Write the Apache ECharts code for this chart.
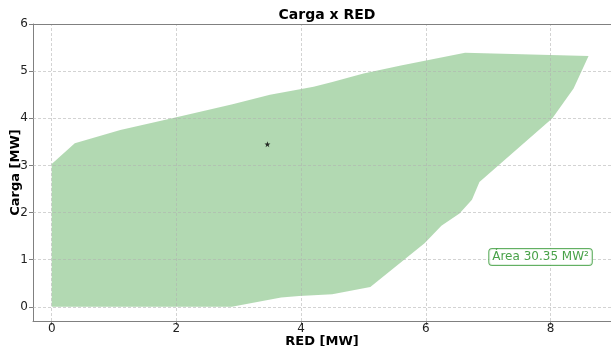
<!DOCTYPE html>
<html>
<head>
<meta charset="utf-8">
<script src="https://cdn.jsdelivr.net/npm/echarts@6/dist/echarts.min.js"></script>
<style>
  html, body { margin: 0; padding: 0; background: #fff; }
  #chart { width: 611px; height: 346px; }
</style>
</head>
<body>
<div id="chart"></div>
<script>
// Operating region boundary (RED vs Carga), traced clockwise
const boundaryRed   = [0.00, 0.00, 0.37, 1.10, 2.00, 2.90, 3.50, 4.20, 4.50, 5.00, 5.60, 6.63, 8.61, 8.37, 8.03, 6.86, 6.74, 6.54, 6.25, 5.98, 5.11, 4.50, 3.97, 3.68, 2.89];
const boundaryCarga = [0.00, 3.03, 3.47, 3.75, 4.02, 4.30, 4.50, 4.67, 4.77, 4.95, 5.12, 5.39, 5.32, 4.63, 4.00, 2.65, 2.27, 1.98, 1.72, 1.35, 0.42, 0.27, 0.23, 0.20, 0.00];

// Current operating point
const pointRed = [3.46];
const pointCarga = [3.45];

// Area annotation
const areaLabel = 'Área 30.35 MW²';
const areaLabelPos = [7.84, 1.06];

// Axis ticks
const xTicks = [0, 2, 4, 6, 8];
const yTicks = [0, 1, 2, 3, 4, 5, 6];

const polygonData = boundaryRed.map((x, i) => [x, boundaryCarga[i]]);
const font = 'DejaVu Sans';

const chart = echarts.init(document.getElementById('chart'), null, { renderer: 'canvas' });

const gridLineStyle = { color: '#b0b0b0', type: [3, 2], width: 0.8, opacity: 0.7 };

chart.setOption({
  animation: false,
  title: {
    text: 'Carga x RED',
    left: 322, top: 3, textAlign: 'center',
    textStyle: { fontFamily: font, fontSize: 14, fontWeight: 'bold', color: '#000' }
  },
  grid: { left: 33, right: 0, top: 24, bottom: 25, containLabel: false, outerBoundsMode: 'none' },
  xAxis: {
    type: 'value', min: -0.3, max: 8.97,
    name: 'RED [MW]', nameLocation: 'middle', nameGap: 14, nameMoveOverlap: false,
    nameTextStyle: { fontFamily: font, fontSize: 13, fontWeight: 'bold', color: '#000', verticalAlign: 'top' },
    axisLine: { show: true, onZero: false, lineStyle: { color: '#808080', width: 1 } },
    axisTick: { show: true, length: 4, customValues: xTicks, lineStyle: { color: '#808080' } },
    axisLabel: { customValues: xTicks, fontFamily: font, fontSize: 12, color: '#222', margin: 2 },
    splitLine: { show: false }
  },
  yAxis: {
    type: 'value', min: -0.3, max: 6,
    name: 'Carga [MW]', nameLocation: 'middle', nameGap: 11, nameMoveOverlap: false,
    nameTextStyle: { fontFamily: font, fontSize: 13, fontWeight: 'bold', color: '#000' },
    axisLine: { show: true, onZero: false, lineStyle: { color: '#808080', width: 1 } },
    axisTick: { show: true, length: 4, customValues: yTicks, lineStyle: { color: '#808080' } },
    axisLabel: { customValues: yTicks, fontFamily: font, fontSize: 12, color: '#222', margin: 5 },
    splitLine: { show: false }
  },
  graphic: [{
    type: 'line', shape: { x1: 33, y1: 24.5, x2: 611, y2: 24.5 },
    style: { stroke: '#808080', lineWidth: 1 }, z: 10
  }],
  series: [
    {
      // dashed grid lines at tick positions
      type: 'line', data: [], silent: true,
      markLine: {
        silent: true, symbol: 'none', label: { show: false },
        lineStyle: gridLineStyle,
        data: xTicks.map(v => ({ xAxis: v })).concat(yTicks.map(v => ({ yAxis: v })))
      }
    },
    {
      type: 'custom',
      data: [0],
      renderItem: function (params, api) {
        const pts = polygonData.map(p => api.coord(p));
        return {
          type: 'polygon',
          shape: { points: pts },
          style: { fill: 'rgba(0,128,0,0.3)', stroke: 'none' }
        };
      },
      z: 3
    },
    {
      type: 'scatter',
      data: pointRed.map((x, i) => [x, pointCarga[i]]),
      symbol: 'path://M50,0 L61.8,35.1 L97.6,34.5 L69.1,56.7 L79.4,90.9 L50,70.5 L20.6,90.9 L30.9,56.7 L2.4,34.5 L38.2,35.1 Z',
      symbolSize: 6,
      itemStyle: { color: '#000' },
      z: 5
    },
    {
      type: 'scatter',
      data: [areaLabelPos],
      symbolSize: 0,
      label: {
        show: true, position: 'inside',
        formatter: areaLabel,
        fontFamily: font, fontSize: 12, color: '#1a8a1a',
        backgroundColor: '#fff', borderColor: '#3c9c3c', borderWidth: 1, borderRadius: 3,
        padding: [2, 3, 2, 3]
      },
      z: 6
    }
  ]
});
</script>
</body>
</html>
